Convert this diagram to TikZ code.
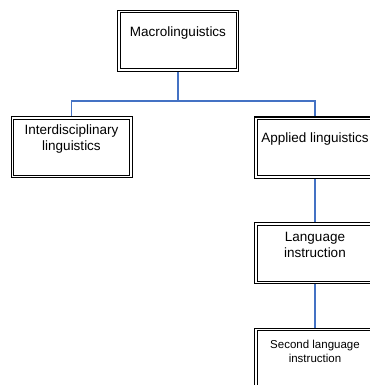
\documentclass[tikz,border=0pt]{standalone}
\usepackage{fontspec}
\setmainfont{Liberation Sans}
\usetikzlibrary{backgrounds}
\definecolor{linkblue}{RGB}{68,114,196}
\begin{document}
\begin{tikzpicture}[x=1pt,y=-1pt,
  framebox/.style={draw=black, line width=1pt, fill=white,
    minimum width=121pt, minimum height=61pt, inner sep=0pt},
  innerframe/.style={draw=black, line width=1pt},
  caption/.style={font=\fontsize{13.5}{16}\selectfont, align=center, inner sep=0pt},
  smallcaption/.style={font=\fontsize{11.5}{14}\selectfont, align=center, inner sep=0pt},
  conn/.style={draw=linkblue, line width=1.1pt}]
\useasboundingbox (0,0) rectangle (369,385);

% boxes
\node[framebox] (macro) at (178,41) {};
\node[framebox] (inter) at (71.5,147) {};
\node[framebox] (applied) at (315,147.5) {};
\node[framebox] (lang) at (315,253) {};
\node[framebox] (second) at (315,358.5) {};

% inner line of each double frame
\foreach \b in {macro,inter,applied,lang,second}
  \draw[innerframe] ([shift={(3,3)}]\b.north west) rectangle ([shift={(-3,-3)}]\b.south east);

% texts
\node[caption] (macroT) at (178,33.5) {Macrolinguistics};
\node[caption] (interT) at (71.5,139) {Interdisciplinary\\linguistics};
\node[caption] (appliedT) at (315,139.5) {Applied linguistics};
\node[caption] (langT) at (315,245) {Language\\instruction};
\node[smallcaption] (secondT) at (315,351.5) {Second language\\instruction};

% connectors
\coordinate (bus) at (178,101);
\begin{scope}[on background layer]
\draw[conn] (macro.south) -- (bus);
\draw[conn] (inter.north) |- (bus) -| (applied.north);
\draw[conn] (applied.south) -- (lang.north);
\draw[conn] (lang.south) -- (second.north);
\end{scope}
\end{tikzpicture}
\end{document}
